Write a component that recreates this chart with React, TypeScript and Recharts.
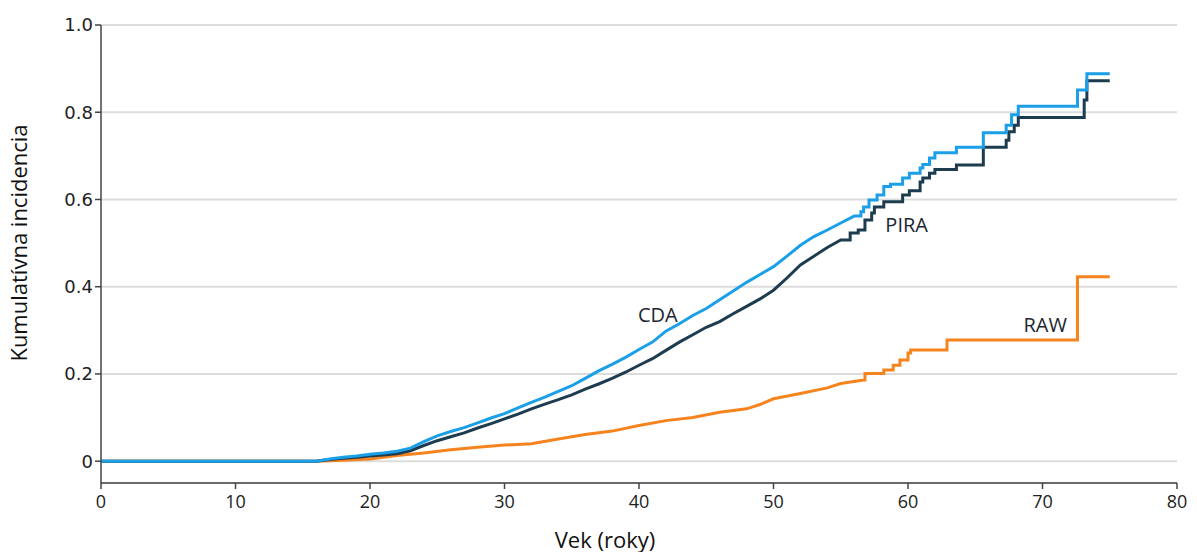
import React from "react";
import { LineChart, Line, XAxis, YAxis, CartesianGrid, ReferenceDot } from "recharts";

// CDA (blue) - smooth part then step part starting at cdaStepFrom
const cdaAges = [0, 16, 17, 18, 19, 20, 21, 22, 23, 24, 25, 26, 27, 28, 29, 30, 31, 32, 33, 34, 35, 36, 37, 38, 39, 40, 41, 42, 43, 44, 45, 46, 47, 48, 49, 50, 51, 52, 53, 54, 55, 56,
  56.5, 56.7, 57.1, 57.7, 58.2, 58.7, 59.6, 60.1, 60.9, 61.1, 61.6, 62.0, 63.6, 65.6, 67.3, 67.7, 68.2, 72.6, 73.3, 75];
const cdaValues = [0, 0, 0.005, 0.009, 0.012, 0.016, 0.019, 0.023, 0.03, 0.045, 0.058, 0.068, 0.077, 0.088, 0.099, 0.109, 0.122, 0.135, 0.147, 0.16, 0.173, 0.19, 0.207, 0.222, 0.238, 0.256, 0.273, 0.298, 0.315, 0.334, 0.35, 0.37, 0.39, 0.41, 0.428, 0.446, 0.47, 0.495, 0.515, 0.53, 0.546, 0.562,
  0.572, 0.583, 0.599, 0.61, 0.63, 0.635, 0.649, 0.66, 0.672, 0.68, 0.695, 0.707, 0.72, 0.753, 0.77, 0.794, 0.814, 0.851, 0.888, 0.888];
const cdaStepFrom = 42;

// PIRA (dark)
const piraAges = [0, 16, 17, 18, 19, 20, 21, 22, 23, 24, 25, 26, 27, 28, 29, 30, 31, 32, 33, 34, 35, 36, 37, 38, 39, 40, 41, 42, 43, 44, 45, 46, 47, 48, 49, 50, 51, 52, 53, 54, 55,
  55.7, 56.3, 56.8, 57.3, 57.5, 58.2, 59.6, 60.1, 60.9, 61.1, 61.6, 62.0, 63.6, 65.6, 67.3, 67.5, 67.9, 68.2, 73.1, 73.3, 75];
const piraValues = [0, 0, 0.004, 0.007, 0.009, 0.012, 0.014, 0.017, 0.024, 0.036, 0.047, 0.056, 0.065, 0.076, 0.086, 0.097, 0.108, 0.12, 0.131, 0.141, 0.152, 0.165, 0.177, 0.19, 0.204, 0.22, 0.235, 0.254, 0.273, 0.29, 0.307, 0.32, 0.338, 0.355, 0.372, 0.392, 0.42, 0.45, 0.47, 0.49, 0.507,
  0.523, 0.53, 0.553, 0.569, 0.583, 0.595, 0.61, 0.62, 0.64, 0.649, 0.66, 0.669, 0.679, 0.72, 0.736, 0.755, 0.77, 0.788, 0.828, 0.872, 0.872];
const piraStepFrom = 41;

// RAW (orange)
const rawAges = [0, 16, 18, 20, 22, 24, 26, 28, 30, 32, 34, 36, 38, 40, 42, 44, 46, 48, 49, 50, 52, 54, 55, 56.7,
  56.8, 58.2, 58.9, 59.4, 60.0, 60.2, 62.9, 72.6, 75];
const rawValues = [0, 0, 0.002, 0.005, 0.013, 0.019, 0.026, 0.032, 0.037, 0.04, 0.051, 0.061, 0.069, 0.082, 0.093, 0.1, 0.112, 0.12, 0.13, 0.143, 0.155, 0.168, 0.178, 0.186,
  0.201, 0.209, 0.22, 0.232, 0.248, 0.255, 0.278, 0.423, 0.423];
const rawStepFrom = 24;

const xTicks = [0, 10, 20, 30, 40, 50, 60, 70, 80];
const yTicks = [0, 0.2, 0.4, 0.6, 0.8, 1.0];

function buildSeries(ages: number[], values: number[], stepFrom: number) {
  const pts: { age: number; value: number }[] = [];
  ages.forEach((a, i) => {
    if (i >= stepFrom && i > 0) pts.push({ age: a, value: values[i - 1] });
    pts.push({ age: a, value: values[i] });
  });
  return pts;
}

const cda = buildSeries(cdaAges, cdaValues, cdaStepFrom);
const pira = buildSeries(piraAges, piraValues, piraStepFrom);
const raw = buildSeries(rawAges, rawValues, rawStepFrom);

const font = "'Open Sans', sans-serif";
const labelStyle = { fill: "#1c2633", fontSize: 20, fontWeight: 500, fontFamily: font };

export default function App() {
  return (
    <div style={{ position: "relative", width: 1181, height: 544 }}>
      <div
        style={{
          position: "absolute", left: 10 - 200, top: 235 - 15, width: 400, height: 30,
          textAlign: "center", transform: "rotate(-90deg)", fontSize: 22, lineHeight: "30px",
          fontFamily: font, color: "#111",
        }}
      >
        Kumulatívna incidencia
      </div>
      <div
        style={{
          position: "absolute", left: 597 - 100, top: 519, width: 200, height: 24,
          textAlign: "center", fontSize: 22, lineHeight: "24px",
          fontFamily: font, color: "#111",
        }}
      >
        Vek (roky)
      </div>
      <LineChart width={1181} height={544} margin={{ top: 17, right: 12, bottom: 9, left: 13 }}>
        <CartesianGrid horizontal vertical={false} stroke="#dcdcdc" strokeWidth={2} />
        <XAxis
          type="number" dataKey="age" domain={[0, 80]} ticks={xTicks} height={60}
          stroke="#444" strokeWidth={1.5} tickLine={{ stroke: "#444" }} tickMargin={6}
          tick={{ fill: "#222", fontSize: 18, fontFamily: font }}
        />
        <YAxis
          type="number" domain={[-0.05, 1]} ticks={yTicks} width={80}
          stroke="#444" strokeWidth={1.5} tickLine={{ stroke: "#444" }}
          tickFormatter={(v: number) => (v === 0 ? "0" : v.toFixed(1))}
          tick={{ fill: "#222", fontSize: 18, fontFamily: "'DejaVu Sans', sans-serif" }}
        />
        <Line data={raw} dataKey="value" type="linear" stroke="#f5841f" strokeWidth={3} dot={false} isAnimationActive={false} />
        <Line data={pira} dataKey="value" type="linear" stroke="#1d3c4f" strokeWidth={3} dot={false} isAnimationActive={false} />
        <Line data={cda} dataKey="value" type="linear" stroke="#1a9fe8" strokeWidth={3} dot={false} isAnimationActive={false} />
        <ReferenceDot x={41.4} y={0.335} r={0} stroke="none" label={{ value: "CDA", position: "center", ...labelStyle }} />
        <ReferenceDot x={59.9} y={0.541} r={0} stroke="none" label={{ value: "PIRA", position: "center", ...labelStyle }} />
        <ReferenceDot x={70.2} y={0.312} r={0} stroke="none" label={{ value: "RAW", position: "center", ...labelStyle }} />
      </LineChart>
    </div>
  );
}
